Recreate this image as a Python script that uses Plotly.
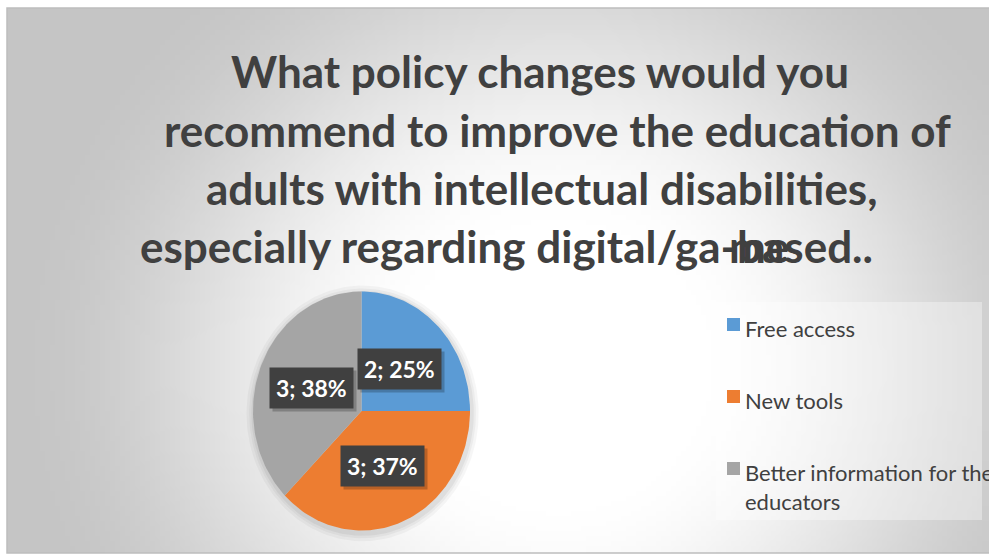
import base64
import math
import struct
import textwrap
import zlib

import plotly.graph_objects as go

# ---- data -------------------------------------------------------------
categories = ["Free access", "New tools", "Better information for the educators"]
counts = [2, 3, 3]
percent_labels = ["25%", "37%", "38%"]
slice_colors = ["#5B9BD5", "#ED7D31", "#A5A5A5"]

title_lines = [
    "What policy changes would you",
    "recommend to improve the education of",
    "adults with intellectual disabilities,",
    "especially regarding digital/ga-based..",
]

# ---- canvas -----------------------------------------------------------
W, H = 989, 557
TEXT = "#404040"
FONT = "Lato"


def gradient_png(w, h):
    """Soft radial grey-to-white backdrop encoded as a PNG data URI."""
    cx, cy, rx, ry = 0.56, 0.66, 0.56, 0.95
    raw = bytearray()
    for j in range(h):
        raw.append(0)
        for i in range(w):
            dx = (i / (w - 1) - cx) / rx
            dy = (j / (h - 1) - cy) / ry
            t = math.hypot(dx, dy)
            s = min(max((t - 0.25) / 0.75, 0.0), 1.0)
            s = s * s * (3 - 2 * s)
            v = int(round(255 - 58 * s))
            raw += bytes((v, v, v))

    def chunk(tag, data):
        return (struct.pack(">I", len(data)) + tag + data
                + struct.pack(">I", zlib.crc32(tag + data) & 0xFFFFFFFF))

    png = (b"\x89PNG\r\n\x1a\n"
           + chunk(b"IHDR", struct.pack(">IIBBBBB", w, h, 8, 2, 0, 0, 0))
           + chunk(b"IDAT", zlib.compress(bytes(raw), 9))
           + chunk(b"IEND", b""))
    return "data:image/png;base64," + base64.b64encode(png).decode()


# frame of the chart area (pixels)
fx0, fy0, fx1, fy1 = 7, 8, 989, 553

# pie geometry (pixels) - slightly taller than wide
pcx, pcy, prx, pry = 361.5, 411.0, 108.5, 119.5
span = 1.15

fig = go.Figure()

# soft shadow under the pie
for k, a in [(1.07, 0.035), (1.045, 0.04), (1.025, 0.05)]:
    xs = [k * math.sin(2 * math.pi * i / 180) + 0.01 for i in range(181)]
    ys = [k * math.cos(2 * math.pi * i / 180) - 0.02 for i in range(181)]
    fig.add_trace(go.Scatter(x=xs, y=ys, mode="lines", fill="toself",
                             line=dict(width=0), fillcolor=f"rgba(0,0,0,{a})",
                             hoverinfo="skip", showlegend=False))

total = sum(counts)
start = 0.0
mids = []
for name, val, col in zip(categories, counts, slice_colors):
    frac = val / total
    a0, a1 = start * 2 * math.pi, (start + frac) * 2 * math.pi
    n = max(int(frac * 240), 8)
    xs, ys = [0.0], [0.0]
    for i in range(n + 1):
        a = a0 + (a1 - a0) * i / n
        xs.append(math.sin(a))
        ys.append(math.cos(a))
    xs.append(0.0)
    ys.append(0.0)
    fig.add_trace(go.Scatter(x=xs, y=ys, mode="lines", fill="toself",
                             line=dict(width=0), fillcolor=col, name=name,
                             hovertemplate=f"{name}: {val} ({frac:.1%})<extra></extra>",
                             showlegend=False))
    mids.append((a0 + a1) / 2)
    start += frac

# data labels in dark boxes
for val, pct, mid in zip(counts, percent_labels, mids):
    lx, ly = 0.5 * math.sin(mid), 0.5 * math.cos(mid)
    label = f"<b>{val}; {pct}</b>"
    fig.add_annotation(x=lx, y=ly, xref="x", yref="y", text=label, showarrow=False,
                       xshift=3, yshift=-3, bgcolor="rgba(0,0,0,0.22)",
                       font=dict(family=FONT, size=23, color="rgba(0,0,0,0)"),
                       borderpad=6)
    fig.add_annotation(x=lx, y=ly, xref="x", yref="y", text=label, showarrow=False,
                       bgcolor="#404040",
                       font=dict(family=FONT, size=23, color="white"),
                       borderpad=6)

# title, one annotation per line
title_size = 44
title_centers_x = [540, 557, 542, 506]
title_centers_y = [71, 130, 188, 246]
for line, tx, ty in zip(title_lines, title_centers_x, title_centers_y):
    fig.add_annotation(x=tx / W, y=1 - ty / H, xref="paper", yref="paper",
                       text=f"<b>{line}</b>", showarrow=False,
                       xanchor="center", yanchor="middle",
                       font=dict(family=FONT, size=title_size, color=TEXT))
# overprinted fragment in the last title line
fig.add_annotation(x=727 / W, y=1 - 246 / H, xref="paper", yref="paper",
                   text="<b>me</b>", showarrow=False, xanchor="left", yanchor="middle",
                   font=dict(family=FONT, size=title_size, color=TEXT))

# legend panel
lx0, ly0, lx1, ly1 = 716, 302, 982, 520
shapes = [
    dict(type="rect", xref="paper", yref="paper",
         x0=fx0 / W, x1=fx1 / W + 0.01, y0=1 - fy1 / H, y1=1 - fy0 / H,
         line=dict(color="#BDBDBD", width=1.5), layer="above"),
    dict(type="rect", xref="paper", yref="paper",
         x0=lx0 / W, x1=lx1 / W, y0=1 - ly1 / H, y1=1 - ly0 / H,
         fillcolor="rgba(255,255,255,0.35)", line=dict(width=0), layer="below"),
]
leg_top, leg_step = 324.5, 72
for i, (name, col) in enumerate(zip(categories, slice_colors)):
    cy = leg_top + i * leg_step
    shapes.append(dict(type="rect", xref="paper", yref="paper",
                       x0=727 / W, x1=740 / W, y0=1 - (cy + 6.5) / H, y1=1 - (cy - 6.5) / H,
                       fillcolor=col, line=dict(width=0)))
    wrapped = "<br>".join(textwrap.wrap(name, 26))
    fig.add_annotation(x=743 / W, y=1 - (cy - 12) / H, xref="paper", yref="paper",
                       text=wrapped, showarrow=False, xanchor="left", yanchor="top",
                       align="left",
                       font=dict(family=FONT, size=22, color=TEXT))

fig.update_layout(
    width=W, height=H,
    margin=dict(l=0, r=0, t=0, b=0),
    paper_bgcolor="white",
    plot_bgcolor="rgba(0,0,0,0)",
    showlegend=False,
    shapes=shapes,
    images=[dict(source=gradient_png(196, 109), xref="paper", yref="paper",
                 x=fx0 / W, y=1 - fy0 / H, sizex=(fx1 - fx0) / W, sizey=(fy1 - fy0) / H,
                 xanchor="left", yanchor="top", sizing="stretch", layer="below")],
    xaxis=dict(domain=[(pcx - span * prx) / W, (pcx + span * prx) / W],
               range=[-span, span], visible=False, fixedrange=True),
    yaxis=dict(domain=[1 - (pcy + span * pry) / H, 1 - (pcy - span * pry) / H],
               range=[-span, span], visible=False, fixedrange=True),
)

fig.write_html("out.html")
